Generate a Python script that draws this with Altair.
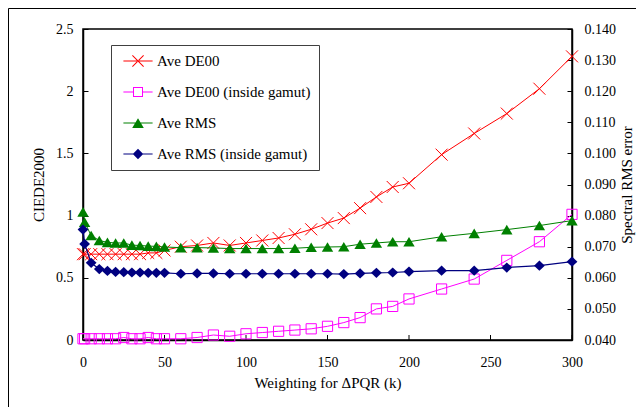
import altair as alt
import pandas as pd

# ---- data ----
k = [0, 1, 5, 10, 15, 20, 25, 30, 35, 40, 45, 50,
     60, 70, 80, 90, 100, 110, 120, 130, 140, 150,
     160, 170, 180, 190, 200, 220, 240, 260, 280, 300]

ave_de00 = [0.69, 0.69, 0.69, 0.69, 0.69, 0.69, 0.69, 0.69, 0.69, 0.70, 0.70, 0.72,
            0.75, 0.76, 0.78, 0.76, 0.78, 0.80, 0.82, 0.85, 0.89, 0.94,
            0.98, 1.06, 1.15, 1.23, 1.26, 1.49, 1.66, 1.82, 2.02, 2.28]

ave_de00_in = [0.01, 0.01, 0.01, 0.01, 0.01, 0.01, 0.02, 0.01, 0.01, 0.02, 0.01, 0.01,
               0.01, 0.02, 0.04, 0.03, 0.05, 0.06, 0.07, 0.08, 0.09, 0.11,
               0.14, 0.18, 0.25, 0.27, 0.33, 0.41, 0.49, 0.64, 0.79, 1.01]

ave_rms = [0.0812, 0.0779, 0.0736, 0.0720, 0.0714, 0.0712, 0.0712, 0.0705, 0.0704, 0.0702, 0.0701, 0.0699,
           0.0697, 0.0697, 0.0696, 0.0694, 0.0694, 0.0694, 0.0694, 0.0695, 0.0698, 0.0699,
           0.0700, 0.0708, 0.0712, 0.0716, 0.0716, 0.0732, 0.0743, 0.0755, 0.0768, 0.0784]

ave_rms_in = [0.0755, 0.0709, 0.0648, 0.0628, 0.0622, 0.0619, 0.0618, 0.0617, 0.0617, 0.0616, 0.0616, 0.0616,
              0.0613, 0.0614, 0.0614, 0.0613, 0.0613, 0.0613, 0.0613, 0.0613, 0.0613, 0.0613,
              0.0612, 0.0614, 0.0616, 0.0617, 0.0620, 0.0623, 0.0623, 0.0633, 0.0639, 0.0652]

names = ["Ave DE00", "Ave DE00 (inside gamut)", "Ave RMS", "Ave RMS (inside gamut)"]
colors = ["#FF0000", "#FF00FF", "#008000", "#000080"]
left_ticks = [0, 0.5, 1, 1.5, 2, 2.5]
right_ticks = [0.04, 0.05, 0.06, 0.07, 0.08, 0.09, 0.10, 0.11, 0.12, 0.13, 0.14]
x_ticks = [0, 50, 100, 150, 200, 250, 300]

series_values = [ave_de00, ave_de00_in, ave_rms, ave_rms_in]
rows = []
for name, vals in zip(names, series_values):
    for kk, v in zip(k, vals):
        rows.append({"series": name, "k": kk, "value": v})
df = pd.DataFrame(rows)

# ---- marker shapes (unit box -1..1) ----
plot_shapes = [
    "M-1,-1L1,1M-1,1L1,-1",                              # x
    "M-0.85,-0.85L0.85,-0.85L0.85,0.85L-0.85,0.85Z",     # square
    "M0,-0.8L0.95,0.8L-0.95,0.8Z",                       # triangle
    "M0,-0.85L0.9,0L0,0.85L-0.9,0Z",                     # diamond
]
plot_filled = [False, False, True, True]

# legend symbols drawn entirely with fills (unit = 8 px): a 1 px line plus the marker
LINE = "M-0.45,-0.0625L3.2,-0.0625L3.2,0.0625L-0.45,0.0625Z"
legend_shapes = [
    LINE + "M0.719,-0.744L2.119,0.656L2.031,0.744L0.631,-0.656Z"
           "M0.719,0.744L2.119,-0.656L2.031,-0.744L0.631,0.656Z",
    "M-0.45,-0.0625L0.75,-0.0625L0.75,0.0625L-0.45,0.0625Z"
    "M2.0,-0.0625L3.2,-0.0625L3.2,0.0625L2.0,0.0625Z"
    "M0.75,-0.625L2.0,-0.625L2.0,0.625L0.75,0.625Z"
    "M0.875,-0.5L0.875,0.5L1.875,0.5L1.875,-0.5Z",
    LINE + "M1.375,-0.6L2.1,0.62L0.65,0.62Z",
    LINE + "M1.375,-0.65L2.03,0L1.375,0.65L0.72,0Z",
]

FONT = "Liberation Serif"

common_axis = dict(ticks=False, tickSize=0,
                   gridColor="black", gridOpacity=1, gridWidth=1,
                   domainColor="black", domainWidth=1.5, labelFlush=False,
                   labelFont=FONT, labelFontSize=14, labelColor="black",
                   titleFont=FONT, titleFontSize=15, titleFontWeight="normal",
                   titleColor="black")

x_enc = alt.X("k:Q", scale=alt.Scale(domain=[0, 300], nice=False),
              axis=alt.Axis(title="Weighting for \u0394PQR (k)", values=x_ticks, format="d",
                            grid=False, labelPadding=15, titlePadding=6, **common_axis))

y_left = alt.Y("value:Q", scale=alt.Scale(domain=[0, 2.5], nice=False),
               axis=alt.Axis(title="CIEDE2000", values=left_ticks, format="~g",
                             grid=True, gridDash=[5, 1000],
                             labelPadding=10, titlePadding=9, **common_axis))

y_right = alt.Y("value:Q", scale=alt.Scale(domain=[0.04, 0.14], nice=False),
                axis=alt.Axis(title="Spectral RMS error", orient="right", values=right_ticks,
                              format=".3f", grid=True, gridDash=[5, 1000],
                              labelPadding=12, titlePadding=19,
                              titleAngle=270, **common_axis))


def series_layers(i, y_enc):
    base = alt.Chart(df).transform_filter(alt.datum.series == names[i])
    line = base.mark_line(color=colors[i], strokeWidth=1.2 if i == 3 else 1).encode(x=x_enc, y=y_enc)
    pts = base.mark_point(shape=plot_shapes[i], size=144, filled=plot_filled[i],
                          color=colors[i], strokeWidth=1, opacity=1).encode(x=x_enc, y=y_enc)
    return [line, pts]


leg = alt.Legend(title=None, orient="none", legendX=28, legendY=16,
                 strokeColor="#404040", fillColor="white", padding=8,
                 symbolSize=256, symbolStrokeWidth=0, symbolOpacity=1,
                 labelFont=FONT, labelFontSize=15, labelColor="black",
                 labelOffset=22, rowPadding=15, labelLimit=400)

legend_layer = alt.Chart(df).mark_point(opacity=0, filled=True, strokeWidth=0).encode(
    x=x_enc, y=y_left,
    fill=alt.Fill("series:N", scale=alt.Scale(domain=names, range=colors), legend=leg),
    shape=alt.Shape("series:N", scale=alt.Scale(domain=names, range=legend_shapes), legend=leg),
)

# inward tick marks on the bottom axis, placed through the x scale
x_tick_marks = alt.Chart(pd.DataFrame({"t": x_ticks})).mark_rule(
    color="black", strokeWidth=1).encode(x=alt.X("t:Q"), y=alt.value(311), y2=alt.value(306))

one = pd.DataFrame({"a": [0]})
frame_top = alt.Chart(one).mark_rule(color="black", strokeWidth=1).encode(
    x=alt.value(-74.5), x2=alt.value(600), y=alt.value(-20.5))
frame_left = alt.Chart(one).mark_rule(color="black", strokeWidth=1).encode(
    x=alt.value(-74.5), y=alt.value(-20.5), y2=alt.value(400))

left = alt.layer(frame_top, frame_left, x_tick_marks,
                 *series_layers(0, y_left), *series_layers(1, y_left), legend_layer)
right = alt.layer(*series_layers(2, y_right), *series_layers(3, y_right))

chart = alt.layer(left, right).resolve_scale(y="independent").properties(
    width=489, height=311,
    padding={"left": 75, "top": 21, "right": 64, "bottom": 67},
    autosize=alt.AutoSizeParams(type="none"),
    background="white",
).configure_view(stroke="black", strokeWidth=1.5)

chart.save("out.html", embed_options={"renderer": "svg", "actions": False})
